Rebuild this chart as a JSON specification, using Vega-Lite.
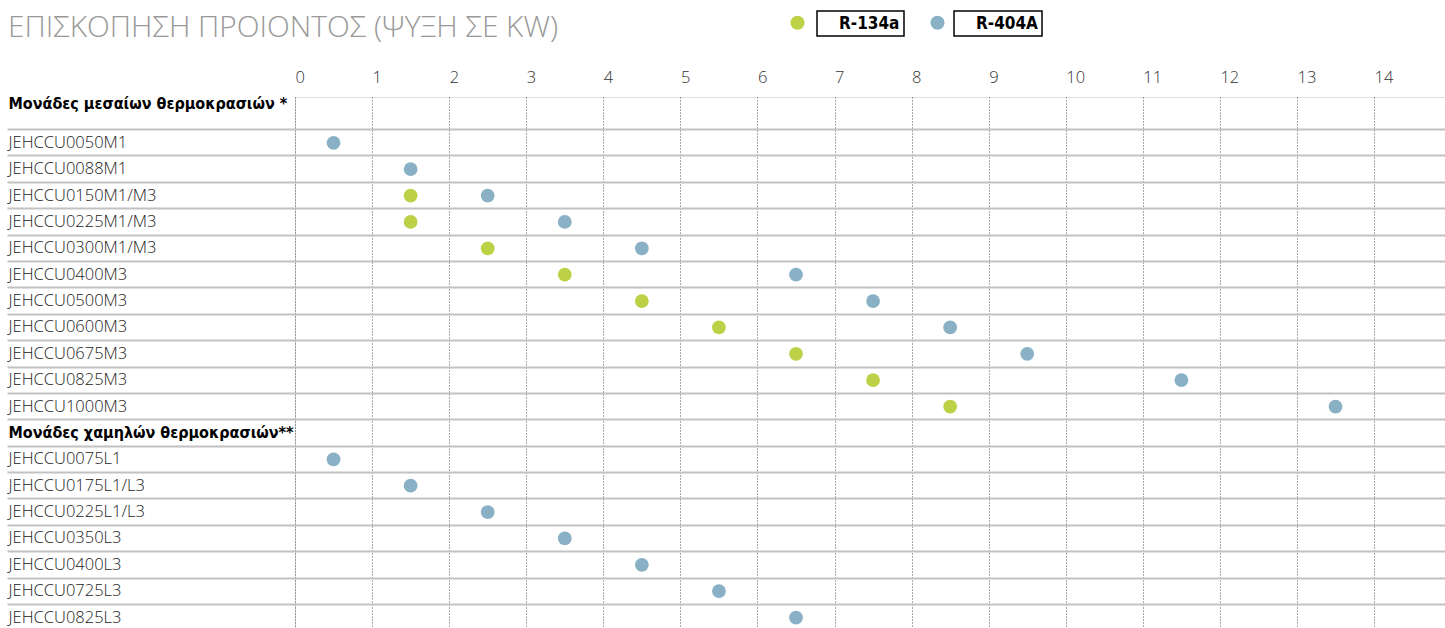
{
  "$schema": "https://vega.github.io/schema/vega-lite/v6.json",
  "autosize": {"type": "none"},
  "padding": {"left": 295, "top": 97, "right": 0, "bottom": 0},
  "width": 1150,
  "height": 540,
  "background": "white",
  "config": {"legend": {"strokeWidth": 1.5}},
  "title": {
    "text": "ΕΠΙΣΚΟΠΗΣΗ ΠΡΟΙΟΝΤΟΣ (ΨΥΞΗ ΣΕ KW)",
    "anchor": "start",
    "dx": 2,
    "font": "Open Sans",
    "fontWeight": 300,
    "fontSize": 29.8,
    "color": "#999999",
    "offset": -33
  },
  "data": {
    "values": [
      {"model": "JEHCCU0050M1", "ref": "R-404A", "kw": 0.5},
      {"model": "JEHCCU0088M1", "ref": "R-404A", "kw": 1.5},
      {"model": "JEHCCU0150M1/M3", "ref": "R-134a", "kw": 1.5},
      {"model": "JEHCCU0150M1/M3", "ref": "R-404A", "kw": 2.5},
      {"model": "JEHCCU0225M1/M3", "ref": "R-134a", "kw": 1.5},
      {"model": "JEHCCU0225M1/M3", "ref": "R-404A", "kw": 3.5},
      {"model": "JEHCCU0300M1/M3", "ref": "R-134a", "kw": 2.5},
      {"model": "JEHCCU0300M1/M3", "ref": "R-404A", "kw": 4.5},
      {"model": "JEHCCU0400M3", "ref": "R-134a", "kw": 3.5},
      {"model": "JEHCCU0400M3", "ref": "R-404A", "kw": 6.5},
      {"model": "JEHCCU0500M3", "ref": "R-134a", "kw": 4.5},
      {"model": "JEHCCU0500M3", "ref": "R-404A", "kw": 7.5},
      {"model": "JEHCCU0600M3", "ref": "R-134a", "kw": 5.5},
      {"model": "JEHCCU0600M3", "ref": "R-404A", "kw": 8.5},
      {"model": "JEHCCU0675M3", "ref": "R-134a", "kw": 6.5},
      {"model": "JEHCCU0675M3", "ref": "R-404A", "kw": 9.5},
      {"model": "JEHCCU0825M3", "ref": "R-134a", "kw": 7.5},
      {"model": "JEHCCU0825M3", "ref": "R-404A", "kw": 11.5},
      {"model": "JEHCCU1000M3", "ref": "R-134a", "kw": 8.5},
      {"model": "JEHCCU1000M3", "ref": "R-404A", "kw": 13.5},
      {"model": "JEHCCU0075L1", "ref": "R-404A", "kw": 0.5},
      {"model": "JEHCCU0175L1/L3", "ref": "R-404A", "kw": 1.5},
      {"model": "JEHCCU0225L1/L3", "ref": "R-404A", "kw": 2.5},
      {"model": "JEHCCU0350L3", "ref": "R-404A", "kw": 3.5},
      {"model": "JEHCCU0400L3", "ref": "R-404A", "kw": 4.5},
      {"model": "JEHCCU0725L3", "ref": "R-404A", "kw": 5.5},
      {"model": "JEHCCU0825L3", "ref": "R-404A", "kw": 6.5}
    ]
  },
  "mark": {"type": "circle", "size": 190, "opacity": 1, "strokeWidth": 0},
  "encoding": {
    "x": {
      "field": "kw",
      "type": "quantitative",
      "scale": {"domain": [0, 14.92], "nice": false, "zero": false},
      "axis": {
        "orient": "top",
        "title": null,
        "values": [0,1,2,3,4,5,6,7,8,9,10,11,12,13,14],
        "format": "d",
        "domain": false,
        "ticks": false,
        "labelAlign": "left",
        "labelFont": "Open Sans",
        "labelFontWeight": 300,
        "labelFontSize": 16.5,
        "labelColor": "#333333",
        "labelPadding": 12,
        "grid": true,
        "gridColor": "#555555",
        "gridDash": [1, 2],
        "gridWidth": 1
      }
    },
    "y": {
      "field": "model",
      "type": "nominal",
      "scale": {
        "type": "band",
        "domain": [
          "Μονάδες μεσαίων θερμοκρασιών *",
          "JEHCCU0050M1", "JEHCCU0088M1", "JEHCCU0150M1/M3", "JEHCCU0225M1/M3", "JEHCCU0300M1/M3",
          "JEHCCU0400M3", "JEHCCU0500M3", "JEHCCU0600M3", "JEHCCU0675M3", "JEHCCU0825M3", "JEHCCU1000M3",
          "Μονάδες χαμηλών θερμοκρασιών**",
          "JEHCCU0075L1", "JEHCCU0175L1/L3", "JEHCCU0225L1/L3", "JEHCCU0350L3", "JEHCCU0400L3",
          "JEHCCU0725L3", "JEHCCU0825L3"
        ],
        "paddingInner": 0,
        "paddingOuter": 0.235
      },
      "axis": {
        "title": null,
        "domain": false,
        "bandPosition": 1,
        "tickExtra": false,
        "tickSize": 288,
        "tickWidth": 2,
        "tickColor": "#c2c2c2",
        "grid": true,
        "gridColor": "#c2c2c2",
        "gridWidth": 2,
        "labelAlign": "left",
        "labelPadding": -1,
        "labelLimit": 320,
        "labelLineHeight": 24,
        "labelFont": {"condition": {"test": "indexof(datum.value, 'Μονάδες') === 0", "value": "DejaVu Sans Condensed"}, "value": "Open Sans"},
        "labelFontWeight": {"condition": {"test": "indexof(datum.value, 'Μονάδες') === 0", "value": "bold"}, "value": 300},
        "labelFontSize": {"condition": {"test": "indexof(datum.value, 'Μονάδες') === 0", "value": 16}, "value": 16.5},
        "labelColor": {"condition": {"test": "indexof(datum.value, 'Μονάδες') === 0", "value": "#000000"}, "value": "#222222"},
        "labelBaseline": {"condition": {"test": "datum.value === 'Μονάδες μεσαίων θερμοκρασιών *'", "value": "line-bottom"}, "value": "middle"}
      }
    },
    "color": {
      "field": "ref",
      "type": "nominal",
      "scale": {"domain": ["R-134a", "R-404A"], "range": ["#bdd147", "#89b0c4"]},
      "legend": {
        "orient": "none",
        "legendX": 495,
        "legendY": -82,
        "direction": "horizontal",
        "title": null,
        "symbolType": "circle",
        "symbolSize": 200,
        "symbolStrokeWidth": 0,
        "symbolOpacity": 1,
        "labelExpr": "''",
        "labelOffset": 0,
        "columnPadding": 125
      }
    },
    "opacity": {
      "field": "ref",
      "type": "nominal",
      "scale": {"range": [1, 1]},
      "legend": {
        "orient": "none",
        "legendX": 522,
        "legendY": -86,
        "values": ["R-134a"],
        "title": null,
        "symbolType": "circle",
        "symbolSize": 1,
        "symbolFillColor": "#ffffff",
        "symbolStrokeColor": "#ffffff",
        "symbolStrokeWidth": 0,
        "labelFont": "DejaVu Sans Condensed",
        "labelFontWeight": "bold",
        "labelFontSize": 17,
        "labelColor": "#000000",
        "labelOffset": 1,
        "padding": 4,
        "strokeColor": "#000000",
        "fillColor": "#ffffff",
        "encode": {"symbols": {"update": {"size": {"value": 1}}}}
      }
    },
    "stroke": {
      "field": "ref",
      "type": "nominal",
      "scale": {"domain": ["R-404A", "R-134a"], "range": ["#89b0c4", "#bdd147"]},
      "legend": {
        "orient": "none",
        "legendX": 659,
        "legendY": -86,
        "values": ["R-404A"],
        "title": null,
        "symbolType": "circle",
        "symbolSize": 1,
        "symbolFillColor": "#ffffff",
        "symbolStrokeColor": "#ffffff",
        "symbolStrokeWidth": 0,
        "labelFont": "DejaVu Sans Condensed",
        "labelFontWeight": "bold",
        "labelFontSize": 17,
        "labelColor": "#000000",
        "labelOffset": 1,
        "padding": 4,
        "strokeColor": "#000000",
        "fillColor": "#ffffff",
        "encode": {"symbols": {"update": {"size": {"value": 1}, "stroke": {"value": "#ffffff"}, "strokeWidth": {"value": 0}}}}
      }
    }
  }
}
